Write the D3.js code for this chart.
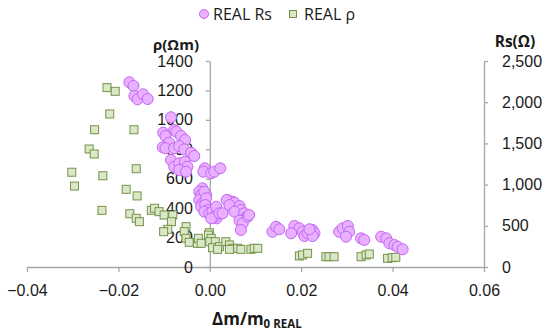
<!DOCTYPE html>
<html>
<head>
<meta charset="utf-8">
<script src="https://cdn.jsdelivr.net/npm/d3@7"></script>
<style>
  body { margin: 0; background: #fff; }
  svg { font-family: "Open Sans", "Liberation Sans", sans-serif; }
</style>
</head>
<body>
<div id="chart"></div>
<script>
// REAL Rs (right axis, ohm) vs dm/m0
var rsX = [-0.0176, -0.0167, -0.0165, -0.0158, -0.0146, -0.0136, -0.0085, -0.0102, -0.0097, -0.0078,
    -0.0073, -0.0063, -0.0054, -0.0089, -0.0103, -0.0097, -0.0078, -0.0067, -0.0056, -0.0041,
    -0.0034, -0.0085, -0.0078, -0.0067, -0.0054, -0.0049, -0.0067, -0.0052, -0.0011, -0.0014,
    0.0003, 0.0010, 0.0023, -0.0016, -0.0023, -0.0019, -0.0008, -0.0023, -0.0016, 0.0039,
    0.0050, 0.0057, -0.0012, -0.0008, -0.0019, -0.0010, -0.0005, -0.0012, -0.0001, 0.0006,
    0.0014, 0.0015, 0.0010, 0.0003, 0.0021, 0.0028, 0.0037, 0.0054, 0.0043, 0.0065,
    0.0068, 0.0054, 0.0075, 0.0079, 0.0065, 0.0072, 0.0068, 0.0083, 0.0137, 0.0145,
    0.0086, 0.0152, 0.0185, 0.0196, 0.0178, 0.0203, 0.0207, 0.0214, 0.0225, 0.0229,
    0.0225, 0.0218, 0.0283, 0.0291, 0.0302, 0.0305, 0.0298, 0.0331, 0.0338, 0.0375,
    0.0386, 0.0393, 0.0404, 0.0411, 0.0422];
var rsVal = [2242, 2197, 2075, 2035, 2096, 2039, 1817, 1630, 1590, 1663,
    1642, 1590, 1541, 1509, 1453, 1441, 1441, 1468, 1428, 1387,
    1347, 1299, 1217, 1259, 1278, 1217, 1177, 1157, 1198, 1157,
    1137, 1157, 1198, 955, 914, 874, 874, 813, 773, 813,
    792, 732, 914, 834, 732, 752, 692, 671, 652, 671,
    732, 591, 610, 591, 652, 652, 813, 780, 752, 740,
    692, 671, 652, 603, 562, 530, 449, 610, 428, 489,
    631, 458, 498, 470, 409, 428, 376, 409, 449, 409,
    376, 458, 428, 470, 498, 428, 368, 348, 328, 368,
    348, 288, 267, 246, 215];

// REAL rho (left axis, ohm m) vs dm/m0
var rhoX = [-0.0225, -0.0207, -0.0219, -0.0252, -0.0166, -0.0264, -0.0253, -0.0302, -0.0234, -0.0161,
    -0.0296, -0.0183, -0.0159, -0.0236, -0.0175, -0.0161, -0.0154, -0.0128, -0.0121, -0.0111,
    -0.0100, -0.0081, -0.0084, -0.0092, -0.0101, -0.0052, -0.0056, -0.0052, -0.0045, -0.0027,
    -0.0025, -0.0019, -0.0001, -0.0003, 0.0003, 0.0000, 0.0012, 0.0006, 0.0021, 0.0017,
    0.0035, 0.0043, 0.0050, 0.0043, 0.0061, 0.0068, 0.0090, 0.0097, 0.0105, 0.0196,
    0.0203, 0.0214, 0.0254, 0.0261, 0.0272, 0.0331, 0.0342, 0.0349, 0.0389, 0.0399,
    0.0407];
var rhoVal = [1219, 1194, 1040, 933, 933, 802, 768, 644, 620, 668,
    550, 528, 483, 385, 362, 331, 308, 385, 399, 376,
    353, 353, 308, 256, 240, 274, 240, 195, 168, 161,
    195, 161, 233, 217, 195, 172, 172, 131, 138, 120,
    172, 150, 127, 120, 127, 120, 120, 127, 127, 75,
    82, 93, 70, 70, 70, 70, 82, 88, 59, 63,
    66];

var xTicks = [-0.04, -0.02, 0, 0.02, 0.04, 0.06];
var rhoTicks = [0, 200, 400, 600, 800, 1000, 1200, 1400];
var rsTicks = [0, 500, 1000, 1500, 2000, 2500];

var W = 550, H = 332;
var axisColor = "#a6a6a6", textColor = "#1a1a1a";
var rsFill = "#e9b0ff", rsStroke = "#c266f5";
var rhoFill = "#dbe8c8", rhoStroke = "#76924a";

var svg = d3.select("#chart").append("svg").attr("width", W).attr("height", H);

var x = d3.scaleLinear().domain([-0.04, 0.06]).range([27, 484]);
var yL = d3.scaleLinear().domain([0, 1400]).range([267, 61]);
var yR = d3.scaleLinear().domain([0, 2500]).range([267, 61]);

// x axis along 0
var gx = svg.append("g").attr("transform", "translate(0," + yL(0) + ")")
    .call(d3.axisBottom(x).tickValues(xTicks).tickFormat(d3.format(".2f")).tickSizeInner(5).tickSizeOuter(0).tickPadding(13));
// left axis crossing at x = 0
var gl = svg.append("g").attr("transform", "translate(" + x(0) + ",0)")
    .call(d3.axisLeft(yL).tickValues(rhoTicks).tickFormat(d3.format("d")).tickSizeInner(4).tickSizeOuter(0).tickPadding(13));
// right axis
var gr = svg.append("g").attr("transform", "translate(" + x(0.06) + ",0)")
    .call(d3.axisRight(yR).tickValues(rsTicks).tickFormat(d3.format(",")).tickSizeInner(4).tickSizeOuter(0).tickPadding(14));

[gx, gl, gr].forEach(function (g) {
    g.selectAll("path.domain").attr("stroke", axisColor).attr("stroke-width", 1.3);
    g.selectAll(".tick line").attr("stroke", axisColor).attr("stroke-width", 1.3);
    g.selectAll(".tick text").attr("fill", textColor).style("font-size", "16px");
});

// rho squares
var sq = 8;
svg.selectAll(".rho").data(rhoX).enter().append("rect").attr("class", "rho")
    .attr("x", function (d) { return x(d) - sq / 2; })
    .attr("y", function (d, i) { return yL(rhoVal[i]) - sq / 2; })
    .attr("width", sq).attr("height", sq)
    .attr("fill", rhoFill).attr("stroke", rhoStroke).attr("stroke-width", 1);

// Rs circles
svg.selectAll(".rs").data(rsX).enter().append("circle").attr("class", "rs")
    .attr("cx", function (d) { return x(d); })
    .attr("cy", function (d, i) { return yR(rsVal[i]); })
    .attr("r", 5.5)
    .attr("fill", rsFill).attr("stroke", rsStroke).attr("stroke-width", 1);

// axis titles
svg.append("text").attr("x", 176).attr("y", 50).attr("text-anchor", "middle")
    .attr("font-weight", "bold").style("font-size", "15px").attr("fill", textColor).text("ρ(Ωm)");
svg.append("text").attr("x", 515).attr("y", 47).attr("text-anchor", "middle")
    .attr("font-weight", "bold").style("font-size", "15.5px").attr("fill", textColor).text("Rs(Ω)");

var xt = svg.append("text").attr("x", 212).attr("y", 325)
    .attr("font-weight", "bold").style("font-size", "17px").attr("fill", textColor);
xt.append("tspan").text("Δm/m");
xt.append("tspan").attr("dy", 3).style("font-size", "11.5px").text("0 REAL");

// legend
var lg = svg.append("g");
lg.append("circle").attr("cx", 204).attr("cy", 14).attr("r", 4.5)
    .attr("fill", rsFill).attr("stroke", rsStroke);
lg.append("text").attr("x", 213).attr("y", 20).style("font-size", "16px").attr("fill", textColor).text("REAL Rs");
lg.append("rect").attr("x", 289.5).attr("y", 10.5).attr("width", 7).attr("height", 7)
    .attr("fill", rhoFill).attr("stroke", rhoStroke);
lg.append("text").attr("x", 304).attr("y", 20).style("font-size", "16px").attr("fill", textColor).text("REAL ρ");
</script>
</body>
</html>
